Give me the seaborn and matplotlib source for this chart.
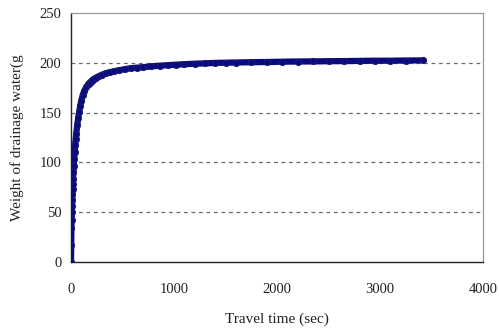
import matplotlib
matplotlib.use("Agg")
import matplotlib.pyplot as plt
import seaborn as sns
import pandas as pd

# Cumulative drainage water weight over travel time
travel_time = [0, 2, 4, 6, 8, 10, 12, 14, 16, 18, 20, 23, 26, 30, 35, 40, 45, 50,
               60, 70, 80, 90, 100, 115, 130, 150, 170, 190, 210, 240, 270, 300,
               340, 380, 420, 470, 520, 580, 640, 700, 780, 860, 940, 1020, 1100,
               1200, 1300, 1400, 1500, 1600, 1750, 1900, 2050, 2200, 2350, 2500,
               2650, 2800, 2950, 3100, 3250, 3420]
drain_weight = [0, 17, 34, 42, 50, 56, 62, 68, 73, 78, 83, 90, 96, 103, 110, 117,
                123, 128, 137, 145, 151, 157, 162, 168, 172, 176, 179, 181, 183,
                185, 186.5, 188, 189.5, 190.5, 191.5, 192.5, 193.5, 194.5, 195,
                195.5, 196.3, 197, 197.5, 198, 198.5, 199, 199.3, 199.8, 200,
                200.2, 200.5, 200.7, 201, 201.2, 201.3, 201.5, 201.6, 201.8, 202,
                202, 202.2, 202.3]

x_ticks = [0, 1000, 2000, 3000, 4000]
y_ticks = [0, 50, 100, 150, 200, 250]

df = pd.DataFrame({"time": travel_time, "weight": drain_weight})

sns.set_theme(style="white")
plt.rcParams["font.family"] = ["Liberation Serif", "DejaVu Serif"]

fig = plt.figure(figsize=(4.99, 3.30), dpi=100)
ax = fig.add_axes([0.1423, 0.206, 0.826, 0.755])

navy = "#0a0a80"
sns.lineplot(data=df, x="time", y="weight", ax=ax, color=navy, linewidth=4.5,
             marker="o", markersize=4.5, markeredgewidth=0.6,
             markeredgecolor="#1c1c6e", sort=False, zorder=3)

ax.set_xlim(0, 4000)
ax.set_ylim(0, 250)
ax.set_xticks(x_ticks)
ax.set_yticks(y_ticks)
ax.set_xticklabels([str(v) for v in x_ticks], fontsize=10.5)
ax.set_yticklabels([str(v) for v in y_ticks], fontsize=10.5)

for y in y_ticks[1:-1]:
    ax.axhline(y, color="#6a6a6a", linestyle=(0, (3, 3)), linewidth=0.9, zorder=1)

ax.tick_params(axis="x", direction="in", length=3, width=0.8, color="#333333",
               pad=15, labelcolor="#222222")
ax.tick_params(axis="y", direction="out", length=3, width=0.8, color="#333333",
               pad=4, labelcolor="#222222")

for side in ("left", "bottom"):
    ax.spines[side].set_color("#222222")
    ax.spines[side].set_linewidth(1.0)
for side in ("top", "right"):
    ax.spines[side].set_visible(True)
    ax.spines[side].set_color("#9a9a9a")
    ax.spines[side].set_linewidth(0.9)

ax.set_xlabel("Travel time (sec)", fontsize=11, color="#222222", labelpad=12)
ax.set_ylabel("Weight of drainage water(g", fontsize=11, color="#222222",
              labelpad=11)

fig.savefig("out.png", dpi=100)
